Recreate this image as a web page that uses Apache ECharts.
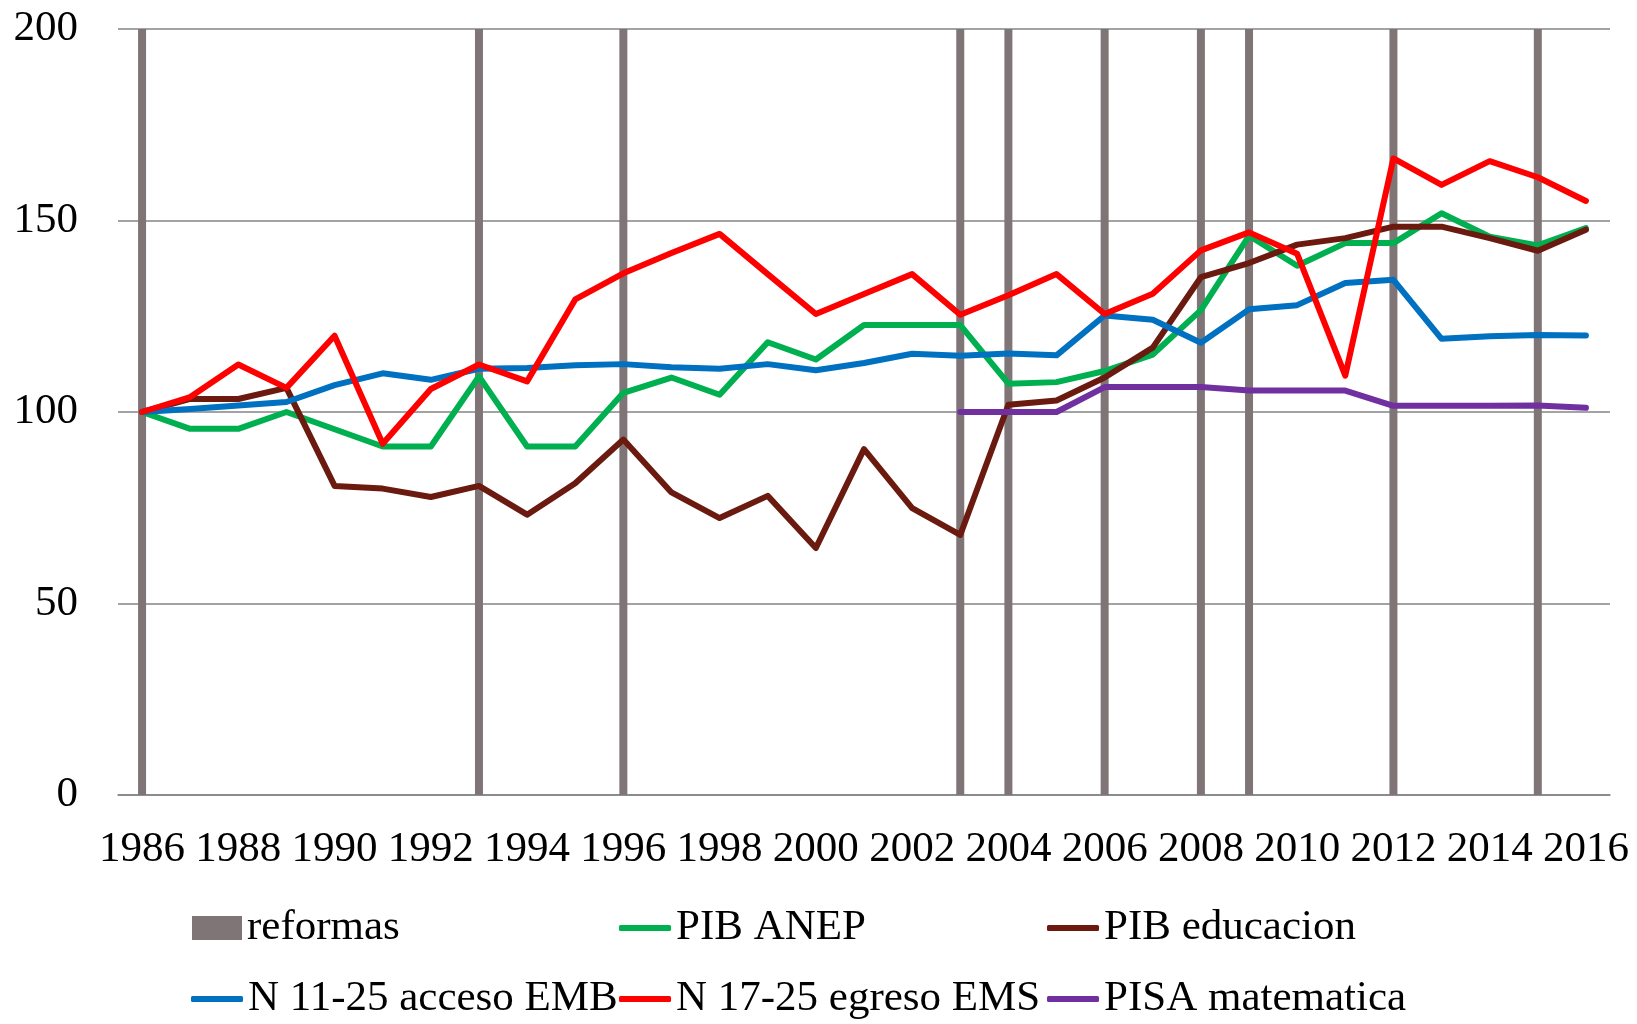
<!DOCTYPE html>
<html><head><meta charset="utf-8">
<script src="https://cdn.jsdelivr.net/npm/echarts@6/dist/echarts.min.js"></script>
<style>html,body{margin:0;padding:0;background:#fff}#c{width:1637px;height:1024px}</style>
</head><body><div id="c"></div>
<script>
const years = [];
for (let y = 1986; y <= 2016; y++) years.push(String(y));
const reformYears = ['1986','1993','1996','2003','2004','2006','2008','2009','2012','2015'];
const reformas = years.map(y => reformYears.includes(y) ? 200 : null);
const pibAnep = [100,95.6,95.6,100,95.5,91,91,109.3,91,91,105,109,104.5,118.2,113.7,122.7,122.7,122.7,107.4,107.8,110.7,115,126.6,146,138.2,144.1,144.1,151.9,145.8,143.5,148];
const pibEdu = [100,103.4,103.4,106.3,80.7,80,77.8,80.7,73.2,81.4,92.8,79,72.3,78.1,64.5,90.3,74.9,67.9,101.9,103,109,116.8,135.2,138.9,143.7,145.4,148.4,148.4,145.4,142.1,147.6];
const acceso = [100,100.8,101.7,102.6,107,110.1,108.4,111.3,111.5,112.2,112.5,111.7,111.3,112.5,110.9,112.8,115.2,114.7,115.3,114.8,125.2,124.1,118.1,126.8,127.9,133.7,134.5,119.1,119.8,120.1,120];
const egreso = [100,103.9,112.4,106.3,119.9,91.7,106,112.4,108,129.4,136.2,141.5,146.5,136,125.6,130.8,136,125.4,130.5,136,125.6,130.9,142.2,146.9,141.3,109.5,166.2,159.3,165.5,161.3,155.1];
const pisa = [null,null,null,null,null,null,null,null,null,null,null,null,null,null,null,null,null,100,100,100,106.5,106.5,106.5,105.6,105.6,105.6,101.6,101.6,101.6,101.7,101.1];
const yTicks = [0,50,100,150,200];

const FONT = 'Liberation Serif';
const colors = {reformas:'#807576', anep:'#00b050', edu:'#6b1a10', acceso:'#0070c0', egreso:'#ff0000', pisa:'#7030a0'};

function lineSeries(name, data, color) {
  return {name, type:'line', data, symbol:'none', showSymbol:false, connectNulls:false,
    lineStyle:{width:6, color, cap:'round', join:'round'}, itemStyle:{color}, z:3, animation:false};
}
function leg(name, left, top, isBar) {
  return {data:[name], left, top, padding:0, selectedMode:false,
    icon: isBar ? 'rect' : 'roundRect', itemWidth: isBar ? 50 : 52, itemHeight: isBar ? 24 : 6,
    textStyle:{fontFamily:FONT, fontSize:43, color:'#000', lineHeight:50, padding:[0,0,0,0]}};
}
const chart = echarts.init(document.getElementById('c'), null, {renderer:'canvas'});
chart.setOption({
  animation:false,
  backgroundColor:'#fff',
  grid:{left:118, right:27, top:29, bottom:229},
  legend:[
    leg('reformas',192,903,true),
    leg('PIB ANEP',619,903,false),
    leg('PIB educacion',1047,903,false),
    leg('N 11-25 acceso EMB',191,974,false),
    leg('N 17-25 egreso EMS',619,974,false),
    leg('PISA matematica',1047,974,false)
  ],
  xAxis:{type:'category', data:years, boundaryGap:true,
    axisLine:{lineStyle:{color:'#858585', width:1.5}}, axisTick:{show:false},
    axisLabel:{interval:1, fontFamily:FONT, fontSize:43, color:'#000', margin:33}},
  yAxis:{type:'value', min:0, max:200, interval:50,
    axisLine:{show:false}, axisTick:{show:false},
    splitLine:{lineStyle:{color:'#858585', width:1.5}},
    axisLabel:{fontFamily:FONT, fontSize:43, color:'#000', margin:40}},
  series:[
    {name:'reformas', type:'bar', data:reformas, barWidth:8, itemStyle:{color:colors.reformas}, z:2},
    lineSeries('PIB ANEP', pibAnep, colors.anep),
    lineSeries('PIB educacion', pibEdu, colors.edu),
    lineSeries('N 11-25 acceso EMB', acceso, colors.acceso),
    lineSeries('N 17-25 egreso EMS', egreso, colors.egreso),
    lineSeries('PISA matematica', pisa, colors.pisa)
  ]
});
</script></body></html>
